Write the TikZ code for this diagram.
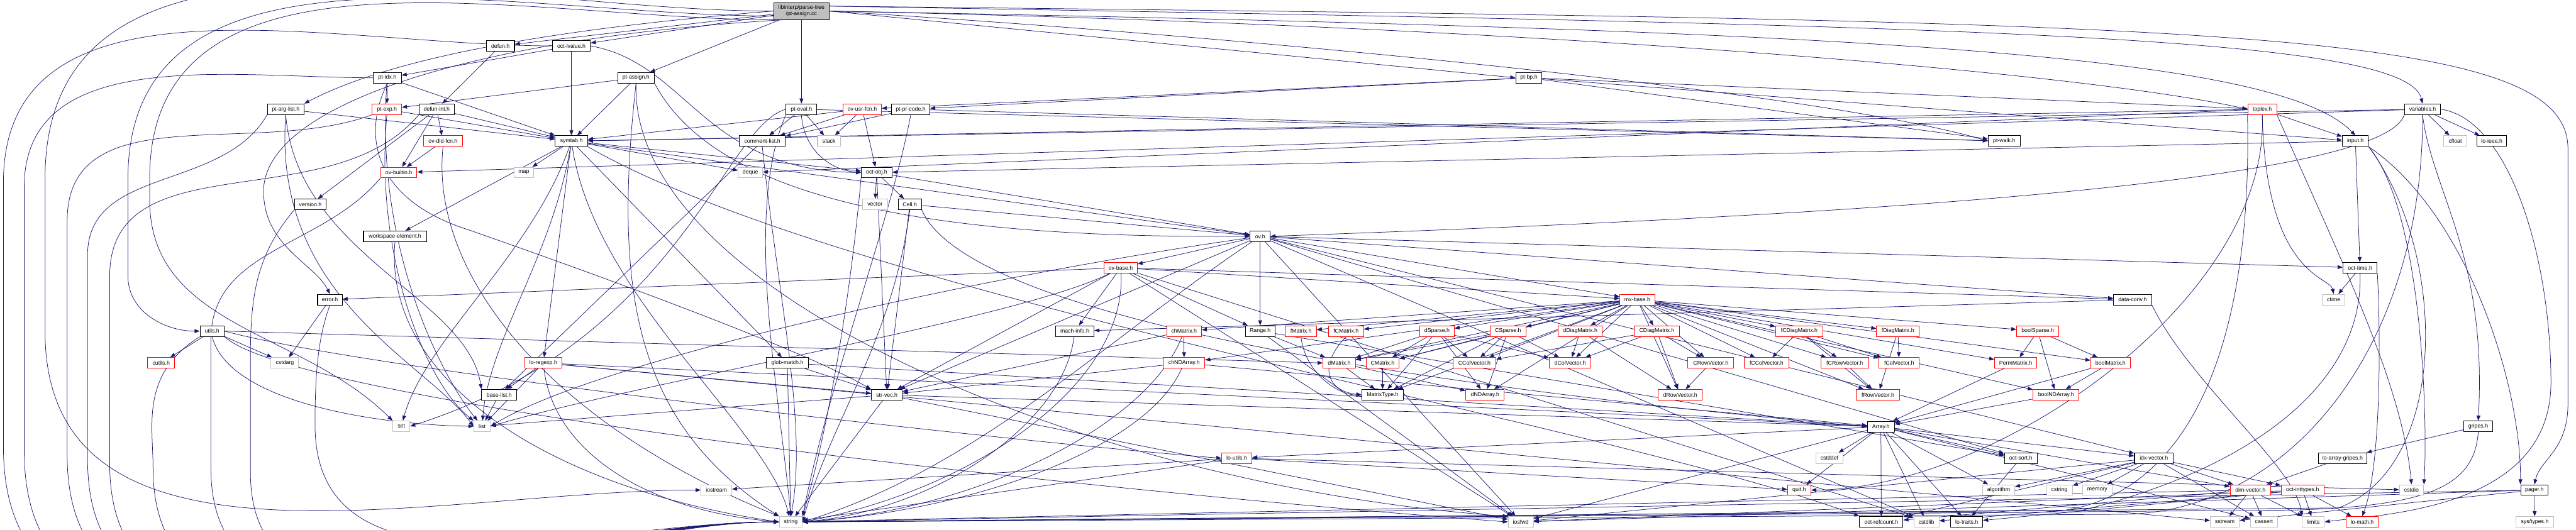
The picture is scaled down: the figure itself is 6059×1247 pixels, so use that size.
\documentclass[tikz,border=0pt]{standalone}
\usepackage{fontspec}
\setmainfont{Liberation Sans}
\usetikzlibrary{arrows.meta}
\definecolor{navy}{HTML}{191970}
\definecolor{gb}{HTML}{BFBFBF}
\pgfdeclarelayer{bg}
\pgfsetlayers{bg,main}
\begin{document}
\begin{tikzpicture}[x=0.5pt,y=-0.5pt,
 hb/.style={draw=black, fill=white, line width=0.75pt, minimum height=12.5pt, inner sep=1pt, font=\fontsize{6.5}{7.5}\selectfont},
 rb/.style={hb, draw=red},
 gy/.style={hb, draw=gb},
 e/.style={draw=navy, line width=0.55pt, -{Triangle[length=6pt,width=4.5pt]}}]
\useasboundingbox (0,0) rectangle (6059,1247);
% ---------------- nodes
\node[hb, fill=gb, minimum width=65pt, minimum height=20pt, align=center] (root) at (1885,26) {libinterp/parse-tree\\/pt-assign.cc};
\node[hb, minimum width=33pt] (defun) at (1177,108) {defun.h};
\node[hb, minimum width=44.5pt] (lvalue) at (1344,108) {oct-lvalue.h};
\node[hb, minimum width=33pt] (ptidx) at (911,183) {pt-idx.h};
\node[hb, minimum width=43pt] (ptassign) at (1496,183) {pt-assign.h};
\node[hb, minimum width=31pt] (ptbp) at (3596,183) {pt-bp.h};
\node[hb, minimum width=43pt] (ptarglist) at (672,257) {pt-arg-list.h};
\node[rb, minimum width=34.5pt] (ptexp) at (910,257) {pt-exp.h};
\node[hb, minimum width=41.5pt] (defunint) at (1027,257) {defun-int.h};
\node[hb, minimum width=36pt] (pteval) at (1885,257) {pt-eval.h};
\node[rb, minimum width=45pt] (ovusr) at (2028,257) {ov-usr-fcn.h};
\node[hb, minimum width=45pt] (ptprcode) at (2142,257) {pt-pr-code.h};
\node[rb, minimum width=34pt] (toplev) at (5321,257) {toplev.h};
\node[hb, minimum width=42.5pt] (variables) at (5698,257) {variables.h};
\node[rb, minimum width=46pt] (ovdld) at (1042,332) {ov-dld-fcn.h};
\node[hb, minimum width=38pt] (symtab) at (1344,332) {symtab.h};
\node[hb, minimum width=54pt] (commentlist) at (1793,332) {comment-list.h};
\node[gy, minimum width=27pt] (stack) at (1950,332) {stack};
\node[hb, minimum width=37.5pt] (ptwalk) at (4714,332) {pt-walk.h};
\node[hb, minimum width=30.5pt] (input) at (5540,332) {input.h};
\node[gy, minimum width=27pt] (cfloat) at (5775,332) {cfloat};
\node[hb, minimum width=35pt] (loieee) at (5861,332) {lo-ieee.h};
\node[rb, minimum width=42.5pt] (ovbuiltin) at (938,406) {ov-builtin.h};
\node[gy, minimum width=23pt] (map) at (1232,406) {map};
\node[gy, minimum width=28.5pt] (deque) at (1765,406) {deque};
\node[hb, minimum width=36pt] (octobj) at (2062,406) {oct-obj.h};
\node[hb, minimum width=37.5pt] (version) at (730,481) {version.h};
\node[gy, minimum width=29.5pt] (vector) at (2058,481) {vector};
\node[hb, minimum width=27.5pt] (cell) at (2140,481) {Cell.h};
\node[hb, minimum width=74pt] (workspace) at (929,556) {workspace-element.h};
\node[hb, minimum width=23.5pt] (ovh) at (2964,556) {ov.h};
\node[rb, minimum width=39pt] (ovbase) at (2636,630) {ov-base.h};
\node[hb, minimum width=40pt] (octtime) at (5551,630) {oct-time.h};
\node[hb, minimum width=29pt] (errorh) at (776,705) {error.h};
\node[rb, minimum width=41pt] (mxbase) at (3851,705) {mx-base.h};
\node[hb, minimum width=45pt] (dataconv) at (5016,705) {data-conv.h};
\node[gy, minimum width=27pt] (ctime) at (5489,705) {ctime};
\node[hb, minimum width=28.5pt] (utils) at (499,779) {utils.h};
\node[hb, minimum width=45pt] (machinfo) at (2528,779) {mach-info.h};
\node[rb, minimum width=41pt] (chmatrix) at (2785,779) {chMatrix.h};
\node[hb, minimum width=35pt] (range) at (2964,779) {Range.h};
\node[rb, minimum width=36.5pt] (fmatrix) at (3060,779) {fMatrix.h};
\node[rb, minimum width=41pt] (fcmatrix) at (3166,779) {fCMatrix.h};
\node[rb, minimum width=40.5pt] (dsparse) at (3380,779) {dSparse.h};
\node[rb, minimum width=42pt] (csparse) at (3547,779) {CSparse.h};
\node[rb, minimum width=51.5pt] (ddiag) at (3717,779) {dDiagMatrix.h};
\node[rb, minimum width=53.5pt] (cdiag) at (3897,779) {CDiagMatrix.h};
\node[rb, minimum width=55.5pt] (fcdiag) at (4232,779) {fCDiagMatrix.h};
\node[rb, minimum width=50pt] (fdiag) at (4464,779) {fDiagMatrix.h};
\node[rb, minimum width=49.5pt] (boolsparse) at (4793,779) {boolSparse.h};
\node[rb, minimum width=32pt] (cutils) at (379,854) {cutils.h};
\node[gy, minimum width=32.5pt] (cstdarg) at (670,854) {cstdarg};
\node[rb, minimum width=43.5pt] (loregexp) at (1278,854) {lo-regexp.h};
\node[hb, minimum width=49pt] (globmatch) at (1852,854) {glob-match.h};
\node[rb, minimum width=49pt] (chnd) at (2785,854) {chNDArray.h};
\node[rb, minimum width=38pt] (dmatrix) at (3150,854) {dMatrix.h};
\node[rb, minimum width=39pt] (cmatrix) at (3252,854) {CMatrix.h};
\node[rb, minimum width=50.5pt] (ccolvec) at (3468,854) {CColVector.h};
\node[rb, minimum width=49pt] (dcolvec) at (3693,854) {dColVector.h};
\node[rb, minimum width=54pt] (crowvec) at (4024,854) {CRowVector.h};
\node[rb, minimum width=53pt] (fccolvec) at (4155,854) {fCColVector.h};
\node[rb, minimum width=56pt] (fcrowvec) at (4339,854) {fCRowVector.h};
\node[rb, minimum width=47.5pt] (fcolvec) at (4467,854) {fColVector.h};
\node[rb, minimum width=49.5pt] (permmatrix) at (4741,854) {PermMatrix.h};
\node[rb, minimum width=46.5pt] (boolmatrix) at (4964,854) {boolMatrix.h};
\node[hb, minimum width=41pt] (basel) at (1174,929) {base-list.h};
\node[hb, minimum width=36.5pt] (strvec) at (2086,929) {str-vec.h};
\node[hb, minimum width=49pt] (mtype) at (3252,929) {MatrixType.h};
\node[rb, minimum width=45pt] (dnd) at (3493,929) {dNDArray.h};
\node[rb, minimum width=52pt] (drowvec) at (3952,929) {dRowVector.h};
\node[rb, minimum width=51pt] (frowvec) at (4417,929) {fRowVector.h};
\node[rb, minimum width=54pt] (boolnd) at (4836,929) {boolNDArray.h};
\node[gy, minimum width=20pt] (set) at (944,1003) {set};
\node[gy, minimum width=19.5pt] (list) at (1134,1003) {list};
\node[hb, minimum width=31.5pt] (array) at (4424,1004) {Array.h};
\node[hb, minimum width=34pt] (gripes) at (5829,1003) {gripes.h};
\node[rb, minimum width=35.5pt] (loutils) at (2909,1078) {lo-utils.h};
\node[gy, minimum width=32pt] (cstddef) at (4303,1078) {cstddef};
\node[hb, minimum width=38.5pt] (octsort) at (4753,1078) {oct-sort.h};
\node[hb, minimum width=45.5pt] (idxvec) at (5066,1078) {idx-vector.h};
\node[hb, minimum width=57pt] (loarraygripes) at (5510,1078) {lo-array-gripes.h};
\node[gy, minimum width=36pt] (iostream) at (1685,1153) {iostream};
\node[rb, minimum width=27.5pt] (quit) at (4232,1153) {quit.h};
\node[gy, minimum width=37.5pt] (algorithm) at (4701,1153) {algorithm};
\node[gy, minimum width=30.5pt] (cstring) at (4844,1153) {cstring};
\node[gy, minimum width=34.5pt] (memory) at (4933,1153) {memory};
\node[rb, minimum width=47.5pt] (dimvec) at (5293,1153) {dim-vector.h};
\node[rb, minimum width=50.5pt] (inttypes) at (5416,1153) {oct-inttypes.h};
\node[gy, minimum width=28.5pt] (cstdio) at (5672,1153) {cstdio};
\node[hb, minimum width=32pt] (pager) at (5961,1153) {pager.h};
\node[gy, minimum width=27pt] (string) at (1860,1228) {string};
\node[gy, minimum width=29.5pt] (iosfwd) at (3577,1228) {iosfwd};
\node[hb, minimum width=51pt] (refcount) at (4425,1228) {oct-refcount.h};
\node[gy, minimum width=29.5pt] (cstdlib) at (4531,1228) {cstdlib};
\node[hb, minimum width=37.5pt] (lotraits) at (4626,1228) {lo-traits.h};
\node[gy, minimum width=34pt] (sstream) at (5233,1228) {sstream};
\node[gy, minimum width=32pt] (cassert) at (5325,1228) {cassert};
\node[gy, minimum width=26pt] (limits) at (5441,1228) {limits};
\node[rb, minimum width=38pt] (lomath) at (5556,1228) {lo-math.h};
\node[gy, minimum width=44.5pt] (systypes) at (5962,1228) {sys/types.h};
% ---------------- edges
\begin{pgfonlayer}{bg}
% root
\draw[e] (root) -- (defun);
\draw[e] (root) -- (lvalue);
\draw[e] (root) -- (ptassign);
\draw[e] (root) -- (pteval);
\draw[e] (root.west) .. controls (1400,60) and (950,120) .. (ptarglist.north east);
\draw[e] (root.west) to[out=180,in=90] (106,420) -- (106,780) to[out=270,in=180] (iostream.west);
\draw[e] (root.190) to[out=180,in=90] (301,420) -- (301,650) to[out=270,in=180] (utils.west);
\draw[e] (root.200) to[out=180,in=90] (352,420) -- (352,470) to[out=270,in=135] (set.north west);
\draw[e] (root.205) .. controls (1100,90) and (620,250) .. (620,450) .. controls (620,580) and (740,620) .. (errorh.north);
\draw[e] (root.east) -- (ptbp.west);
\draw[e] (root.east) .. controls (3000,90) and (4300,220) .. (ptwalk.west);
\draw[e] (root.east) .. controls (3600,60) and (4900,170) .. (toplev.west);
\draw[e] (root.east) .. controls (4300,70) and (5350,120) .. (input.north);
\draw[e] (root.10) .. controls (4600,60) and (5660,80) .. (variables.north);
\draw[e] (root.10) .. controls (5200,50) and (6040,60) .. (6040,350) -- (6040,950) .. controls (6040,1060) and (5975,1080) .. (pager.north);
% lvalue
\draw[e] (lvalue) -- (ptidx);
\draw[e] (lvalue) -- (symtab);
\draw[e] (lvalue.east) .. controls (1620,150) and (1650,400) .. (octobj.west);
\draw[e] (lvalue.west) to[out=180,in=90] (8,430) -- (8,1050) to[out=270,in=180] (string.west);
% ptidx
\draw[e] (ptidx) -- (ptexp);
\draw[e] (ptidx) -- (symtab);
\draw[e] (ptidx.west) to[out=180,in=90] (57,440) -- (57,1060) to[out=270,in=180] (string.west);
\draw[e] (ptidx.south) .. controls (850,320) and (880,470) .. (1100,540) .. controls (1500,680) and (1900,830) .. (strvec.north west);
\draw[e] (ptidx) .. controls (880,600) and (1050,900) .. (list);
% ptexp
\draw[e] (ptexp) -- (symtab);
\draw[e] (ptexp.south west) to[out=200,in=90] (158,520) -- (158,1070) to[out=270,in=180] (string.west);
\draw[e] (ptexp.south) .. controls (880,600) and (1000,900) .. (list.north west);
% ptarglist
\draw[e] (ptarglist) -- (symtab);
\draw[e] (ptarglist.south) .. controls (700,600) and (1100,700) .. (basel.north west);
\draw[e] (ptarglist.south) .. controls (640,700) and (1000,850) .. (list.west);
\draw[e] (ptarglist.south west) to[out=240,in=90] (206,600) -- (206,1080) to[out=270,in=180] (string.west);
% defun
\draw[e] (defun) -- (defunint);
\draw[e] (defunint) -- (ovdld);
\draw[e] (defunint) -- (ovbuiltin);
\draw[e] (defunint) -- (version);
\draw[e] (defunint) -- (symtab);
\draw[e] (defunint.south west) to[out=230,in=90] (258,650) -- (258,1090) to[out=270,in=180] (string.west);
\draw[e] (ovdld) -- (ovbuiltin);
\draw[e] (ovdld.south) .. controls (1010,650) and (1300,1000) .. (string.north west);
\draw[e] (ovbuiltin.south west) to[out=230,in=90] (496,800) -- (496,1100) to[out=270,in=180] (string.west);
\draw[e] (version.south west) to[out=230,in=90] (589,850) -- (589,1110) to[out=270,in=180] (string.west);
\draw[e] (workspace.south) .. controls (900,900) and (1300,1150) .. (string.west);
% error, utils
\draw[e] (errorh) -- (cstdarg);
\draw[e] (errorh.south) .. controls (745,800) and (741,900) .. (741,1000) to[out=270,in=180] (string.west);
\draw[e] (utils) -- (cutils);
\draw[e] (utils) -- (cstdarg);
\draw[e] (utils.east) -- (dmatrix.west);
\draw[e] (utils.south west) .. controls (330,880) and (360,1000) .. (360,1100) to[out=270,in=180] (string.west);
\draw[e] (utils.south) .. controls (540,950) and (900,1000) .. (list.west);
\draw[e] (utils.south east) .. controls (700,950) and (2500,1150) .. (iosfwd.west);
\draw[e] (utils.east) .. controls (900,880) and (2500,1050) .. (loutils.west);
% ptassign
\draw[e] (ptassign) -- (ptexp);
\draw[e] (ptassign) -- (symtab);
\draw[e] (ptassign.south east) .. controls (1700,500) and (2300,560) .. (ovh.west);
\draw[e] (ptassign.south) .. controls (1440,700) and (1500,1000) .. (string.north west);
\draw[e] (ptassign.south) .. controls (1480,700) and (2600,1150) .. (iosfwd.north west);
% pteval
\draw[e] (pteval) -- (commentlist);
\draw[e] (pteval) -- (stack);
\draw[e] (pteval.south) .. controls (1890,350) and (1950,400) .. (octobj.west);
\draw[e] (pteval) -- (ptwalk);
\draw[e] (pteval.west) .. controls (1700,300) and (1600,800) .. (set.east);
\draw[e] (pteval.south west) .. controls (1750,500) and (1830,900) .. (string.north);
% ovusr
\draw[e] (ovusr) -- (commentlist);
\draw[e] (ovusr) -- (stack);
\draw[e] (ovusr) -- (octobj);
\draw[e] (ovusr) -- (symtab);
% ptprcode
\draw[e] (ptprcode) -- (commentlist);
\draw[e] (ptprcode) -- (ptwalk);
\draw[e] (ptprcode.south) .. controls (2100,500) and (1950,900) .. (string.north east);
% ptbp
\draw[e] (ptbp) -- (ovusr);
\draw[e] (ptbp) -- (ptprcode);
\draw[e] (ptbp) -- (ptwalk);
\draw[e] (ptbp) -- (toplev);
\draw[e] (ptbp) -- (input);
% toplev
\draw[e] (toplev) -- (input);
\draw[e] (toplev) -- (deque);
\draw[e] (toplev) -- (symtab);
\draw[e] (toplev.south) .. controls (5340,700) and (4700,1150) .. (quit.east);
\draw[e] (toplev.south east) .. controls (5500,600) and (5650,900) .. (cstdio.north);
\draw[e] (toplev.south) .. controls (5330,650) and (5480,650) .. (ctime.north);
\draw[e] (toplev.south west) .. controls (5300,900) and (5100,1200) .. (4800,1205) -- (string.east);
% variables
\draw[e] (variables) -- (cfloat);
\draw[e] (variables) -- (loieee);
\draw[e] (variables) -- (ovbuiltin);
\draw[e] (variables) -- (symtab);
\draw[e] (variables.south west) .. controls (5600,450) and (4000,520) .. (ovh.east);
\draw[e] (variables.south) .. controls (5720,450) and (5850,600) .. (gripes.north);
\draw[e] (variables.east) .. controls (5900,280) and (6000,600) .. (6000,900) .. controls (6000,1200) and (5600,1210) .. (limits.east);
\draw[e] (variables.south) .. controls (5700,800) and (5400,1200) .. (5000,1210) -- (string.east);
% input
\draw[e] (input) -- (octtime);
\draw[e] (input) -- (octobj);
\draw[e] (input.south east) .. controls (5700,500) and (5710,1000) .. (cstdio.north east);
\draw[e] (input.south east) .. controls (5800,500) and (5930,900) .. (pager.north west);
\draw[e] (input.south east) .. controls (5760,600) and (5760,1100) .. (5500,1195) -- (string.east);
% octtime
\draw[e] (octtime) -- (ctime);
\draw[e] (octtime.south east) .. controls (5600,800) and (5600,1100) .. (lomath.north);
\draw[e] (octtime.south) .. controls (5560,900) and (5300,1100) .. (4900,1200) -- (string.east);
% symtab
\draw[e] (symtab) -- (map);
\draw[e] (symtab) -- (deque);
\draw[e] (symtab) -- (workspace);
\draw[e] (symtab) -- (loregexp);
\draw[e] (symtab) -- (globmatch);
\draw[e] (symtab) -- (octobj);
\draw[e] (symtab) -- (ovh);
\draw[e] (symtab) .. controls (1300,600) and (1150,800) .. (list);
\draw[e] (symtab) .. controls (1250,600) and (1000,800) .. (set);
\draw[e] (symtab) .. controls (1400,700) and (1800,1000) .. (string);
\draw[e] (symtab.south east) .. controls (2000,700) and (3800,1000) .. (refcount.north west);
% commentlist
\draw[e] (commentlist) -- (basel);
\draw[e] (commentlist.south) .. controls (1830,700) and (1900,1000) .. (string.north);
% octobj, cell
\draw[e] (octobj) -- (vector);
\draw[e] (octobj) -- (cell);
\draw[e] (octobj) -- (ovh);
\draw[e] (octobj) -- (strvec);
\draw[e] (octobj.south west) .. controls (2000,700) and (1950,1000) .. (string.north east);
\draw[e] (cell) -- (ovh);
\draw[e] (cell) -- (strvec);
\draw[e] (cell.south east) .. controls (2300,800) and (3800,950) .. (array.west);
\draw[e] (cell.south) .. controls (2100,800) and (1950,1000) .. (string.east);
% ov
\foreach \tg in {ovbase,range,mxbase,dataconv,strvec,idxvec,octsort,octtime,iosfwd,cstdlib} \draw[e] (ovh) -- (\tg);
\draw[e] (ovh) .. controls (2600,800) and (2300,1100) .. (string.east);
\draw[e] (ovh) .. controls (2300,650) and (1400,850) .. (list.east);
\foreach \tg in {machinfo,range,strvec,errorh,mxbase,dataconv,iosfwd,cstdlib} \draw[e] (ovbase) -- (\tg);
\draw[e] (ovbase) .. controls (2650,900) and (2300,1150) .. (string.east);
\draw[e] (ovbase) .. controls (2400,750) and (1500,900) .. (list.east);
% middle
\draw[e] (machinfo) .. controls (2500,1000) and (2200,1200) .. (string.east);
\draw[e] (chmatrix) -- (chnd);
\draw[e] (chmatrix) -- (strvec);
\draw[e] (chmatrix) .. controls (2700,1000) and (2300,1200) .. (string.east);
\draw[e] (chnd) -- (strvec);
\draw[e] (chnd) -- (array);
\draw[e] (chnd) .. controls (2700,1050) and (2300,1200) .. (string.east);
\draw[e] (range) -- (dmatrix);
\draw[e] (range) -- (iosfwd);
\draw[e] (range) -- (octsort);
\foreach \tg in {array,iosfwd,list,string} \draw[e] (strvec) -- (\tg);
\foreach \tg in {basel,list,strvec,array,sstream} \draw[e] (loregexp) -- (\tg);
\draw[e] (loregexp) .. controls (1300,1050) and (1500,1200) .. (string.west);
\foreach \tg in {string,array,strvec} \draw[e] (globmatch) -- (\tg);
\draw[e] (basel) -- (list);
\foreach \tg in {iostream,quit,cstdio,string} \draw[e] (loutils) -- (\tg);
% mx-base
\foreach \tg in {fmatrix,fcmatrix,dsparse,csparse,ddiag,cdiag,fcdiag,fdiag,boolsparse,chmatrix,dmatrix,cmatrix,ccolvec,dcolvec,crowvec,fccolvec,fcrowvec,fcolvec,permmatrix,boolmatrix,mtype,dnd,drowvec,frowvec,boolnd,chnd} \draw[e] (mxbase) -- (\tg);
\draw[e] (dataconv) -- (machinfo);
\draw[e] (dataconv.south east) .. controls (5150,900) and (5400,1100) .. (limits.north west);
\foreach \tg in {dmatrix,cmatrix,mtype,ccolvec,dcolvec,dnd} \draw[e] (dsparse) -- (\tg);
\foreach \tg in {dmatrix,cmatrix,ccolvec,dcolvec,mtype,dnd} \draw[e] (csparse) -- (\tg);
\draw[e] (ddiag) -- (dcolvec);
\draw[e] (ddiag) -- (drowvec);
\foreach \tg in {ccolvec,dcolvec,crowvec,drowvec} \draw[e] (cdiag) -- (\tg);
\draw[e] (dmatrix) -- (mtype);
\draw[e] (dmatrix) -- (dnd);
\draw[e] (cmatrix) -- (mtype);
\draw[e] (fmatrix.south) .. controls (3070,880) and (3150,930) .. (mtype.west);
\draw[e] (fcmatrix.south) .. controls (3100,860) and (3120,920) .. (mtype.west);
\draw[e] (crowvec) -- (drowvec);
\foreach \tg in {fccolvec,fcrowvec,fcolvec,frowvec} \draw[e] (fcdiag) -- (\tg);
\draw[e] (fdiag) -- (fcolvec);
\draw[e] (fdiag) -- (frowvec);
\draw[e] (fcrowvec) -- (frowvec);
\foreach \tg in {permmatrix,boolnd,boolmatrix} \draw[e] (boolsparse) -- (\tg);
\draw[e] (boolmatrix) -- (boolnd);
\draw[e] (boolmatrix) -- (array);
\draw[e] (permmatrix) -- (array);
\draw[e] (boolnd) -- (array);
% bottom
\foreach \tg in {cstddef,quit,refcount,lotraits,algorithm,octsort,idxvec,dimvec,cassert,iosfwd,cstdlib,loutils} \draw[e] (array) -- (\tg);
\draw[e] (octsort) -- (lotraits);
\foreach \tg in {algorithm,cstring,memory,dimvec,inttypes,refcount,iosfwd,cassert} \draw[e] (idxvec) -- (\tg);
\draw[e] (gripes) -- (loarraygripes);
\draw[e] (gripes.south) .. controls (5820,1150) and (5700,1190) .. (5400,1200) -- (string.east);
\draw[e] (loarraygripes) -- (dimvec);
\foreach \tg in {sstream,cassert,limits,refcount,string} \draw[e] (dimvec) -- (\tg);
\foreach \tg in {limits,lomath,cstdlib,iosfwd,lotraits} \draw[e] (inttypes) -- (\tg);
\foreach \tg in {systypes,iosfwd,sstream,string} \draw[e] (pager) -- (\tg);
\end{pgfonlayer}
\end{tikzpicture}
\end{document}
